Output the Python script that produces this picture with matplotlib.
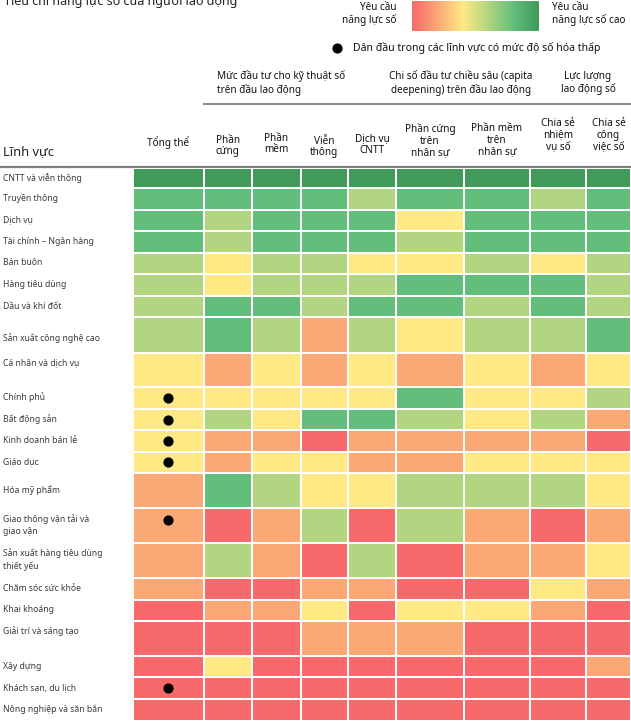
import numpy as np
import matplotlib
matplotlib.use("Agg")
import matplotlib.pyplot as plt
from matplotlib.colors import ListedColormap, BoundaryNorm, LinearSegmentedColormap

plt.rcParams['font.family'] = ['Noto Sans', 'DejaVu Sans']

# sectors (rows) and which ones lead among low-digitisation sectors
sectors = ["CNTT và viễn thông", "Truyền thông", "Dịch vụ", "Tài chính – Ngân hàng",
           "Bán buôn", "Hàng tiêu dùng", "Dầu và khí đốt", "Sản xuất công nghệ cao",
           "Cá nhân và dịch vụ", "Chính phủ", "Bất động sản", "Kinh doanh bán lẻ",
           "Giáo dục", "Hóa mỹ phẩm", "Giao thông vận tải và\ngiao vận",
           "Sản xuất hàng tiêu dùng\nthiết yếu", "Chăm sóc sức khỏe", "Khai khoáng",
           "Giải trí và sáng tạo", "Xây dựng", "Khách sạn, du lịch", "Nông nghiệp và săn bắn"]
leaders = ["Chính phủ", "Bất động sản", "Kinh doanh bán lẻ", "Giáo dục",
           "Giao thông vận tải và\ngiao vận", "Khách sạn, du lịch"]

col_labels = ["Tổng thể", "Phần\ncứng", "Phần\nmềm", "Viễn\nthông", "Dịch vụ\nCNTT",
              "Phần cứng\ntrên\nnhân sự", "Phần mềm\ntrên\nnhân sự",
              "Chia sẻ\nnhiệm\nvụ số", "Chia sẻ\ncông\nviệc số"]

# levels: 0 red .. 5 dark green
tong_the     = [5, 4, 4, 4, 3, 3, 3, 3, 2, 2, 2, 2, 2, 1, 1, 1, 1, 0, 0, 0, 0, 0]
phan_cung    = [5, 4, 3, 3, 2, 2, 4, 4, 1, 2, 3, 1, 1, 4, 0, 3, 0, 1, 0, 2, 0, 0]
phan_mem     = [5, 4, 4, 4, 3, 3, 4, 3, 2, 2, 2, 1, 2, 3, 1, 1, 0, 1, 0, 0, 0, 0]
vien_thong   = [5, 4, 4, 4, 3, 3, 3, 1, 1, 2, 4, 0, 2, 2, 3, 0, 1, 2, 1, 0, 0, 0]
dich_vu_cntt = [5, 3, 4, 4, 2, 3, 4, 3, 2, 2, 4, 1, 1, 2, 0, 3, 1, 0, 1, 0, 0, 0]
pc_nhan_su   = [5, 4, 2, 3, 2, 4, 4, 2, 1, 4, 3, 1, 1, 3, 3, 0, 0, 2, 1, 0, 0, 0]
pm_nhan_su   = [5, 4, 4, 4, 3, 4, 3, 3, 2, 2, 2, 1, 2, 3, 1, 1, 0, 2, 0, 0, 0, 0]
cs_nhiem_vu  = [5, 3, 4, 4, 2, 4, 4, 3, 1, 2, 3, 1, 2, 3, 0, 1, 2, 1, 0, 0, 0, 0]
cs_cong_viec = [5, 4, 4, 4, 3, 3, 3, 4, 2, 3, 1, 0, 2, 2, 1, 2, 1, 0, 0, 1, 0, 0]

levels = np.column_stack([tong_the, phan_cung, phan_mem, vien_thong, dich_vu_cntt,
                          pc_nhan_su, pm_nhan_su, cs_nhiem_vu, cs_cong_viec])

level_colors = ["#F8696B", "#FAA875", "#FFE984", "#B1D580", "#63BE7B", "#409A5A"]

# layout (pixels)
W, H = 631, 721
col_w = [70.5, 48.5, 48.5, 47.5, 48, 68, 66, 56, 45]
row_h = [20.3, 21.7, 21.3, 21.4, 21.6, 21.7, 21.3, 35.4, 34.6, 21.7, 21.3,
         21.4, 21.6, 35, 35, 35, 21.7, 21, 35, 21.3, 21.7, 21.5]
grid_left, grid_top = 133, 168
label_frac = {7: 0.58, 8: 0.3, 18: 0.3}
dot_frac = {14: 0.32}
hfs = 7.2  # header font size

fig = plt.figure(figsize=(W / 100, H / 100), dpi=100)
bg = fig.add_axes([0, 0, 1, 1])
bg.set_xlim(0, W)
bg.set_ylim(H, 0)
bg.axis('off')

xe = np.concatenate([[0], np.cumsum(col_w)])
ye = np.concatenate([[0], np.cumsum(row_h)])
ax = fig.add_axes([grid_left / W, (H - grid_top - ye[-1]) / H, xe[-1] / W, ye[-1] / H])
cmap = ListedColormap(level_colors)
norm = BoundaryNorm(np.arange(-0.5, 6.5, 1), cmap.N)
ax.pcolormesh(xe, ye, levels, cmap=cmap, norm=norm, edgecolors='white', linewidth=1.4)
ax.set_xlim(0, xe[-1])
ax.set_ylim(ye[-1], 0)
ax.axis('off')

# leader dots
for i, s in enumerate(sectors):
    if s in leaders:
        y = ye[i] + dot_frac.get(i, 0.5) * row_h[i]
        ax.scatter([col_w[0] / 2], [y], s=40, color='black', zorder=5, clip_on=False)

# row labels
for i, s in enumerate(sectors):
    y = grid_top + ye[i] + label_frac.get(i, 0.47) * row_h[i]
    bg.text(3, y, s, ha='left', va='center', fontsize=6.2, color='#3a3a3a', linespacing=1.45)

# header rules
bg.plot([0, W], [166.5, 166.5], color='#7f7f7f', lw=1.6, solid_capstyle='butt')
bg.plot([203, W], [104, 104], color='#8c8c8c', lw=1.5, solid_capstyle='butt')

bg.text(3, 152, "Lĩnh vực", ha='left', va='center', fontsize=9.3, color='#222222')

# column headers
head_bottom = [149, 157, 155, 158, 156, 158, 157, 152, 152]
for j, lab in enumerate(col_labels):
    xc = grid_left + (xe[j] + xe[j + 1]) / 2
    bg.text(xc, head_bottom[j], lab, ha='center', va='bottom', fontsize=hfs,
            color='#111111', linespacing=1.05)

# group headers
bg.text(217, 83, "Mức đầu tư cho kỹ thuật số\ntrên đầu lao động", ha='left', va='center',
        fontsize=hfs, color='#111111', linespacing=1.2)
bg.text(461, 83, "Chi số đầu tư chiều sâu (capita\ndeepening) trên đầu lao động", ha='center',
        va='center', fontsize=hfs, color='#111111', linespacing=1.2)
bg.text(588, 83, "Lực lượng\nlao động số", ha='center', va='center',
        fontsize=hfs, color='#111111', linespacing=1.2)

# title (cut at the top edge, as in the source)
bg.text(4, 5, "Tiêu chí năng lực số của người lao động", ha='left', va='baseline',
        fontsize=9, fontweight='bold', color='#222222', clip_on=False)

# colour-scale legend
grad = LinearSegmentedColormap.from_list('grad', level_colors)
bg.imshow(np.linspace(0, 1, 256)[None, :], cmap=grad, aspect='auto',
          extent=[412, 539, 31, 1], zorder=2)
bg.text(397, 14, "Yêu cầu\nnăng lực số", ha='right', va='center', fontsize=hfs,
        color='#111111', linespacing=1.2)
bg.text(552, 14, "Yêu cầu\nnăng lực số cao", ha='left', va='center', fontsize=hfs,
        color='#111111', linespacing=1.2)
bg.scatter([337], [48], s=40, color='black')
bg.text(353, 48, "Dân đầu trong các lĩnh vực có mức độ số hóa thấp", ha='left', va='center',
        fontsize=hfs + 0.3, color='#111111')
bg.set_xlim(0, W)
bg.set_ylim(H, 0)

fig.savefig("out.png", dpi=100)
